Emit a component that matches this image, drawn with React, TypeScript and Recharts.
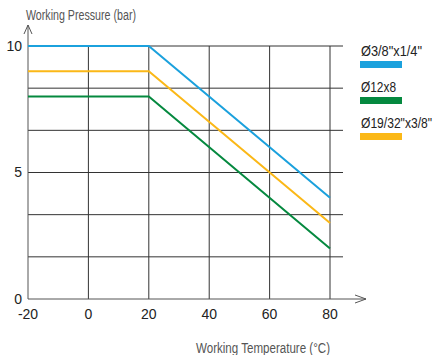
import React from 'react';
import { LineChart, Line, XAxis, YAxis, CartesianGrid, Customized } from 'recharts';

const temperatures = [-20, 20, 80];
const pressureSmall = [10, 10, 4]; // Ø3/8"x1/4"
const pressure12x8 = [8, 8, 2];
const pressureLarge = [9, 9, 3]; // Ø19/32"x3/8"

const xTicks = [-20, 0, 20, 40, 60, 80];
const yTicks = [0, 5, 10];
const gridX = [0, 20, 40, 60, 80];
const gridY = [10 / 6, 20 / 6, 5, 40 / 6, 50 / 6, 10];

const series = [
  { key: 'small', name: 'Ø3/8"x1/4"', color: '#1ba1dd', width: 61 },
  { key: 'mid', name: 'Ø12x8', color: '#05893f', width: 35 },
  { key: 'large', name: 'Ø19/32"x3/8"', color: '#fbb817', width: 71 },
];

const data = temperatures.map((t, i) => ({
  t,
  small: pressureSmall[i],
  mid: pressure12x8[i],
  large: pressureLarge[i],
}));

const FONT = '"Liberation Sans", Arial, sans-serif';
const W = 436;
const H = 355;
const M = { top: 46, right: 93, left: 0, bottom: 26 };

const Arrows = () => {
  const x0 = 28;
  const y0 = 299;
  return (
    <g stroke="#555" fill="none" strokeWidth={1}>
      <line x1={x0} y1={y0} x2={366} y2={y0} />
      <polyline points={`355,295 366,299 355,303`} />
      <line x1={x0} y1={y0} x2={x0} y2={25} />
      <polyline points={`24,34 ${x0},25 32,34`} />
    </g>
  );
};

const LegendSvg = () => (
  <g>
    {series.map((s, i) => (
      <g key={s.key} transform={`translate(360, ${44 + i * 36})`}>
        <text x={1} y={12} fontFamily={FONT} fontSize={14} fill="#222" textLength={s.width} lengthAdjust="spacingAndGlyphs">
          {s.name}
        </text>
        <rect x={0} y={17} width={42} height={7} fill={s.color} />
      </g>
    ))}
  </g>
);

export default function App() {
  return (
    <div style={{ position: 'absolute', left: 0, top: 0, width: W, height: H, background: '#fff' }}>
      <LineChart width={W} height={H} data={data} margin={M}>
        <CartesianGrid stroke="#333" horizontalValues={gridY} verticalValues={gridX} />
        <XAxis
          type="number"
          dataKey="t"
          domain={[-20, 84.3]}
          ticks={xTicks}
          axisLine={false}
          tickLine={false}
          tickSize={0}
          tickMargin={10}
          height={30}
          tick={{ fill: '#222', fontSize: 14, fontFamily: FONT }}
        />
        <YAxis
          type="number"
          domain={[0, 10]}
          ticks={yTicks}
          axisLine={false}
          tickLine={false}
          tickSize={0}
          tickMargin={6}
          width={28}
          tick={{ fill: '#222', fontSize: 14, fontFamily: FONT }}
        />
        {series.map((s) => (
          <Line
            key={s.key}
            dataKey={s.key}
            name={s.name}
            stroke={s.color}
            strokeWidth={2}
            dot={false}
            isAnimationActive={false}
          />
        ))}
        <Customized component={<Arrows />} />
        <Customized component={<LegendSvg />} />
        <text x={26} y={20} fontFamily={FONT} fontSize={14} fill="#555" textLength={110} lengthAdjust="spacingAndGlyphs">
          Working Pressure (bar)
        </text>
        <text x={196} y={353} fontFamily={FONT} fontSize={14} fill="#555" textLength={134} lengthAdjust="spacingAndGlyphs">
          Working Temperature (°C)
        </text>
      </LineChart>
    </div>
  );
}
